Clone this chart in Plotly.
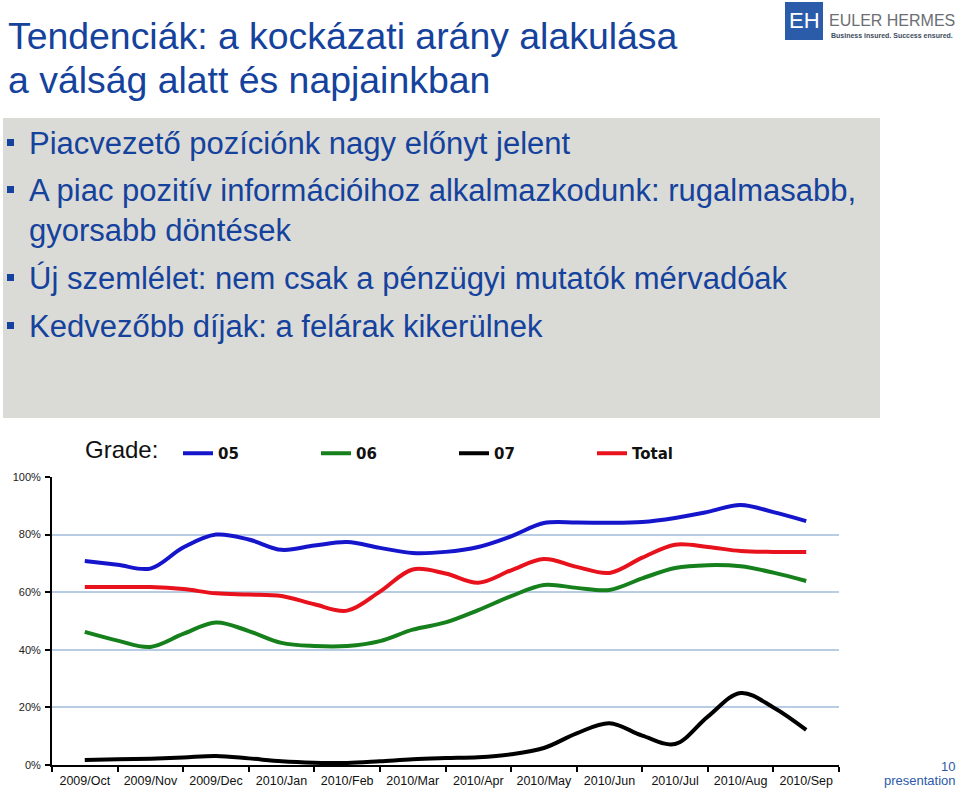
import plotly.graph_objects as go

months = ["2009/Oct", "2009/Nov", "2009/Dec", "2010/Jan", "2010/Feb", "2010/Mar",
          "2010/Apr", "2010/May", "2010/Jun", "2010/Jul", "2010/Aug", "2010/Sep"]

# observation positions (in months from 2009/Oct, half-month steps)
obs = [0, 0.5, 1, 1.5, 2, 2.5, 3, 3.5, 4, 4.5, 5, 5.5, 6, 6.5, 7, 7.5, 8, 8.5,
       9, 9.5, 10, 10.5, 11]

grade05 = [70.8, 69.5, 68.2, 75.5, 80.0, 78.3, 74.7, 76.2, 77.4, 75.4, 73.6, 74.0,
           75.7, 79.4, 84.0, 84.2, 84.1, 84.4, 85.8, 87.9, 90.3, 87.8, 84.7]
grade06 = [46.2, 43.2, 41.0, 45.5, 49.5, 46.5, 42.4, 41.3, 41.3, 43.0, 47.0, 49.5,
           53.8, 58.6, 62.5, 61.5, 60.8, 64.8, 68.4, 69.4, 69.0, 66.8, 63.9]
grade07 = [1.7, 2.0, 2.2, 2.6, 3.1, 2.3, 1.3, 0.8, 0.7, 1.3, 2.0, 2.4,
           2.7, 3.7, 5.9, 11.0, 14.5, 10.2, 7.3, 16.8, 25.0, 20.0, 12.2]
total = [61.8, 61.8, 61.8, 61.1, 59.6, 59.2, 58.7, 55.8, 53.6, 60.2, 67.9, 66.5,
         63.3, 67.6, 71.5, 68.8, 66.7, 72.0, 76.5, 75.7, 74.3, 74.0, 74.0]

y_ticks = [0, 20, 40, 60, 80, 100]
y_ticktext = ["0%", "20%", "40%", "60%", "80%", "100%"]

series = [("05", grade05, "#1515cc"), ("06", grade06, "#16801c"),
          ("07", grade07, "#000000"), ("Total", total, "#e8121c")]

TITLE_BLUE = "#14429c"

fig = go.Figure()
for name, vals, col in series:
    fig.add_trace(go.Scatter(
        x=obs, y=vals, mode="lines", name="<b>%s</b>" % name,
        line=dict(color=col, width=4, shape="spline", smoothing=1.0),
    ))

fig.update_layout(
    width=960, height=792,
    margin=dict(l=52, r=121, t=477, b=27, autoexpand=False),
    paper_bgcolor="white", plot_bgcolor="white",
    font=dict(family="Liberation Sans, Arial", color="#000"),
    showlegend=True,
    legend=dict(
        orientation="h", xref="container", yref="container",
        x=178 / 960, y=1 - 437 / 792, xanchor="left", yanchor="top",
        font=dict(size=15, family="DejaVu Sans", color="#111"),
        entrywidth=93, entrywidthmode="pixels",
        bgcolor="rgba(0,0,0,0)", traceorder="normal",
    ),
    xaxis=dict(
        range=[-0.5, 11.5], tickmode="array", tickvals=list(range(12)), ticktext=months,
        ticks="", showgrid=False, zeroline=False,
        showline=True, linecolor="black", linewidth=2,
        tickfont=dict(size=12.5, family="Liberation Sans", color="#111"),
        ticklabelstandoff=3,
        minor=dict(ticks="outside", tickmode="linear", tick0=0.5, dtick=1,
                   ticklen=5, tickwidth=2, tickcolor="black", showgrid=False),
        fixedrange=True,
    ),
    yaxis=dict(
        range=[0, 100], tickmode="array", tickvals=y_ticks, ticktext=y_ticktext,
        ticks="outside", ticklen=5, tickwidth=2, tickcolor="black",
        showline=True, linecolor="black", linewidth=2,
        showgrid=True, gridcolor="#b8cce4", gridwidth=1.5, zeroline=False,
        tickfont=dict(size=11, family="Liberation Sans", color="#222"),
        ticklabelstandoff=2,
        fixedrange=True,
    ),
)

# grey text box
fig.add_shape(type="rect", xref="paper", yref="paper", layer="below",
              x0=(3 - 52) / 787, x1=(880 - 52) / 787,
              y0=(765 - 118) / 288, y1=(765 - 418) / 288,
              fillcolor="#dadad7", line=dict(width=0))

annots = []
# title
for txt, cy in [("Tendenciák: a kockázati arány alakulása", 36),
                ("a válság alatt és napjainkban", 80)]:
    annots.append(dict(text=txt, x=6, y=cy, xanchor="left", yanchor="middle",
                       font=dict(size=37.4, color=TITLE_BLUE, family="Liberation Sans")))

bullets = [("Piacvezető pozíciónk nagy előnyt jelent", 143, True),
           ("A piac pozitív információihoz alkalmazkodunk: rugalmasabb,", 190, True),
           ("gyorsabb döntések", 231, False),
           ("Új szemlélet: nem csak a pénzügyi mutatók mérvadóak", 278, True),
           ("Kedvezőbb díjak: a felárak kikerülnek", 326, True)]
for txt, cy, has_bullet in bullets:
    annots.append(dict(text=txt, x=27, y=cy, xanchor="left", yanchor="middle",
                       font=dict(size=31, color=TITLE_BLUE, family="Liberation Sans")))
    if has_bullet:
        fig.add_shape(type="rect", xref="paper", yref="paper",
                      x0=(7 - 52) / 787, x1=(14 - 52) / 787,
                      y0=(765 - (cy - 4)) / 288, y1=(765 - (cy + 3)) / 288,
                      fillcolor=TITLE_BLUE, line=dict(width=0))

# legend label
annots.append(dict(text="Grade:", x=83, y=449, xanchor="left", yanchor="middle",
                   font=dict(size=24, color="#111", family="Liberation Sans")))

# logo
fig.add_shape(type="rect", xref="paper", yref="paper",
              x0=(785 - 52) / 787, x1=(823 - 52) / 787,
              y0=(765 - 2) / 288, y1=(765 - 40) / 288,
              fillcolor="#2a5caa", line=dict(width=0))
annots.append(dict(text="EH", x=804, y=21, xanchor="center", yanchor="middle",
                   font=dict(size=22, color="white", family="Liberation Sans")))
annots.append(dict(text="EULER HERMES", x=827, y=20, xanchor="left", yanchor="middle",
                   font=dict(size=16, color="#6b6e72", family="Liberation Sans")))
annots.append(dict(text="<b>Business insured. Success ensured.</b>", x=829, y=35,
                   xanchor="left", yanchor="middle",
                   font=dict(size=7, color="#3d4b5c", family="Liberation Sans")))

# page number
annots.append(dict(text="10", x=957, y=766, xanchor="right", yanchor="middle",
                   font=dict(size=13, color="#2c5aa8", family="Liberation Sans")))
annots.append(dict(text="presentation", x=958, y=780, xanchor="right", yanchor="middle",
                   font=dict(size=13, color="#2c5aa8", family="Liberation Sans")))

# convert page-pixel positions to paper coords
for a in annots:
    a["x"] = (a["x"] - 52) / 787
    a["y"] = (765 - a["y"]) / 288
    a.update(xref="paper", yref="paper", showarrow=False)
fig.update_layout(annotations=annots)

fig.write_html("out.html")
